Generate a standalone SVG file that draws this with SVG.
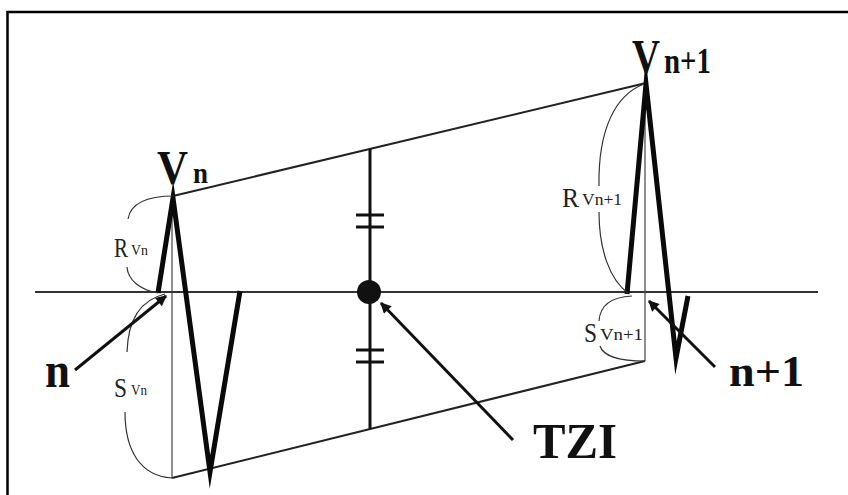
<svg xmlns="http://www.w3.org/2000/svg" width="848" height="495" viewBox="0 0 848 495">
<defs>
<marker id="ah" viewBox="0 0 10 10" refX="9" refY="5" markerWidth="5.5" markerHeight="3.6" orient="auto" markerUnits="strokeWidth">
<path d="M0,0 L10,5 L0,10 z" fill="#111"/>
</marker>
<style>
.frame{stroke:#000;stroke-width:2.5;fill:none}
.base{stroke:#333;stroke-width:1.8;fill:none}
.qrs{stroke:#0a0a0a;stroke-width:5;fill:none;stroke-linejoin:miter;stroke-miterlimit:20}
.env{stroke:#222;stroke-width:2;fill:none}
.thin{stroke:#444;stroke-width:1.2;fill:none}
.brace{stroke:#333;stroke-width:1.2;fill:none}
.mid{stroke:#111;stroke-width:3;fill:none}
.tick{stroke:#111;stroke-width:3}
.arrow{stroke:#111;stroke-width:3;fill:none;marker-end:url(#ah)}
.big{font-family:"Liberation Serif","Times New Roman",serif;font-weight:bold;fill:#111}
.small{font-family:"Liberation Serif","Times New Roman",serif;fill:#222}
</style>
</defs>
<rect width="848" height="495" fill="#fff"/>
<path class="frame" d="M7.5,495 V12 H848"/>
<g id="baseline"><line class="base" x1="35" y1="292" x2="818" y2="292"/></g>
<g id="envelope">
<line class="env" x1="173" y1="196" x2="646" y2="83"/>
<line class="env" x1="172" y1="478" x2="645" y2="361"/>
<line class="thin" x1="172" y1="198" x2="172" y2="478"/>
<line class="thin" x1="645" y1="85" x2="645" y2="361"/>
</g>
<g id="beat-n">
<polyline class="qrs" points="158,293 173,198 210,472 240,291"/>
</g>
<g id="beat-n1">
<polyline class="qrs" points="627,294 646,84 676,358 688,296"/>
</g>
<g id="braces">
<path class="brace" d="M174,196 C150,196 131,201 128,219"/>
<path class="brace" d="M127,267 C128,280 140,290 158,293"/>
<path class="brace" d="M165,294 C140,300 128,320 127,352"/>
<path class="brace" d="M125,412 C125,450 140,476 172,478"/>
<path class="brace" d="M644,84 C615,95 598,130 599,186"/>
<path class="brace" d="M599,212 C599,250 610,280 628,293"/>
<path class="brace" d="M632,296 C612,297 600,305 599,321"/>
<path class="brace" d="M600,346 C603,356 620,361 645,361"/>
</g>
<g id="tzi">
<line class="mid" x1="370" y1="149" x2="370" y2="429"/>
<line class="tick" x1="356" y1="215" x2="384" y2="215"/>
<line class="tick" x1="356" y1="227" x2="384" y2="227"/>
<line class="tick" x1="356" y1="350" x2="384" y2="350"/>
<line class="tick" x1="356" y1="362" x2="384" y2="362"/>
<circle cx="369" cy="292" r="12" fill="#111"/>
</g>
<g id="connectors">
<line class="arrow" x1="75" y1="370" x2="166" y2="296"/>
<line class="arrow" x1="513" y1="440" x2="381" y2="303"/>
<line class="arrow" x1="715" y1="367" x2="649" y2="301"/>
</g>
<g id="labels">
<text class="big" x="157" y="184" font-size="48" textLength="31" lengthAdjust="spacingAndGlyphs">V</text>
<text class="big" x="193" y="183" font-size="30" textLength="15" lengthAdjust="spacingAndGlyphs">n</text>
<text class="big" x="632" y="73" font-size="48" textLength="28" lengthAdjust="spacingAndGlyphs">V</text>
<text class="big" x="664" y="73" font-size="36" textLength="47" lengthAdjust="spacingAndGlyphs">n+1</text>
<text class="big" x="45" y="387" font-size="50" textLength="25" lengthAdjust="spacingAndGlyphs">n</text>
<text class="big" x="729" y="386" font-size="45" textLength="75" lengthAdjust="spacingAndGlyphs">n+1</text>
<text class="big" x="533" y="458" font-size="50" textLength="84" lengthAdjust="spacingAndGlyphs">TZI</text>
<text class="small" x="114" y="257" font-size="27" textLength="14" lengthAdjust="spacingAndGlyphs">R</text>
<text class="small" x="131" y="255" font-size="15" textLength="17" lengthAdjust="spacingAndGlyphs">Vn</text>
<text class="small" x="114" y="397" font-size="27" textLength="13" lengthAdjust="spacingAndGlyphs">S</text>
<text class="small" x="131" y="395" font-size="15" textLength="16" lengthAdjust="spacingAndGlyphs">Vn</text>
<text class="small" x="562" y="207" font-size="27" textLength="17" lengthAdjust="spacingAndGlyphs">R</text>
<text class="small" x="582" y="205" font-size="16" textLength="40" lengthAdjust="spacingAndGlyphs">Vn+1</text>
<text class="small" x="584" y="342" font-size="27" textLength="13" lengthAdjust="spacingAndGlyphs">S</text>
<text class="small" x="600" y="340" font-size="16" textLength="43" lengthAdjust="spacingAndGlyphs">Vn+1</text>
</g>
</svg>
